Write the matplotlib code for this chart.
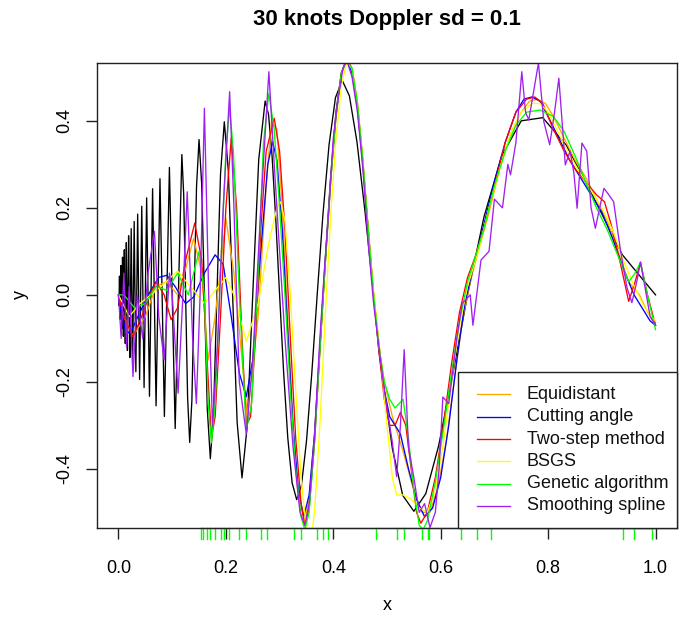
import matplotlib
matplotlib.use("Agg")
import matplotlib.pyplot as plt
from matplotlib.patches import Rectangle
from matplotlib.lines import Line2D

plt.rcParams['font.family'] = ['Liberation Sans', 'DejaVu Sans']

# ---------------- data ----------------
# true Doppler curve (black)
true_x = [0, 0.0006, 0.00122, 0.00185, 0.0025, 0.00316, 0.00385, 0.00455, 0.00526, 0.006,
          0.00676, 0.00753, 0.00833, 0.00915, 0.01, 0.01087, 0.01176, 0.01269, 0.01364, 0.01462,
          0.01563, 0.01667, 0.01774, 0.01885, 0.02, 0.02119, 0.02241, 0.02368, 0.025, 0.02636,
          0.02778, 0.02925, 0.03077, 0.03235, 0.034, 0.03571, 0.0375, 0.03936, 0.0413, 0.04333,
          0.04545, 0.04767, 0.05, 0.05244, 0.055, 0.05769, 0.06053, 0.06351, 0.06667, 0.07,
          0.07353, 0.07727, 0.08125, 0.08548, 0.09, 0.09483, 0.1, 0.10556, 0.11154,
          0.118, 0.12143, 0.125, 0.12872, 0.13261, 0.13667, 0.14091, 0.14535, 0.15, 0.15488,
          0.16, 0.16538, 0.17105, 0.17703, 0.18333, 0.19, 0.19706, 0.20455, 0.2125, 0.22097,
          0.23, 0.23966, 0.25, 0.26111,
          0.27308, 0.27941, 0.286, 0.29286, 0.30, 0.30745, 0.31522, 0.32333, 0.33182, 0.3407,
          0.35, 0.35976, 0.37, 0.38077, 0.39211, 0.40405, 0.41667, 0.43, 0.44412, 0.45909,
          0.475, 0.49194, 0.51, 0.52931, 0.55, 0.57222, 0.59615, 0.622, 0.65, 0.68043,
          0.71364, 0.75, 0.79, 0.83421, 0.88333, 0.93824, 1.0]
true_y = [0, -0.0245, 0, 0.043, 0, -0.0561, 0, 0.0673, 0, -0.0772,
          0, 0.0864, 0, -0.0952, 0, 0.1037, 0, -0.1119, 0, 0.12,
          0, -0.1279, 0, 0.1358, 0, -0.144, 0, 0.1521, 0, -0.1601,
          0, 0.1686, 0, -0.1769, 0, 0.1856, 0, -0.1946, 0, 0.2036,
          0, -0.213, 0, 0.2229, 0, -0.2332, 0, 0.2439, 0, -0.2551,
          0, 0.267, 0, -0.2796, 0, 0.2929, 0, -0.3074, 0,
          0.3226, 0.231, 0, -0.2368, -0.3393, -0.2429, 0, 0.2492, 0.3571, 0.2558,
          0, -0.2627, -0.3766, -0.2699, 0, 0.2774, 0.3979, 0.2852, 0, -0.2934,
          -0.4208, -0.3019, 0, 0.3106,
          0.4456, 0.4146, 0.3195, 0.1742, 0, -0.1766, -0.3285, -0.4322, -0.4709, -0.4379,
          -0.3373, -0.1837, 0, 0.1858, 0.3452, 0.4534, 0.493, 0.4574, 0.3513, 0.1907,
          0, -0.1913, -0.3535, -0.4611, -0.4975, -0.4571, -0.347, -0.1856, 0, 0.1785,
          0.3197, 0.4001, 0.4073, 0.3436, 0.227, 0.0921, 0]

# fitted curves as (x, y) points
equidistant = [(0, 0), (0.01, -0.05), (0.027, -0.095), (0.05, -0.05), (0.07, 0.02), (0.09, 0.03),
               (0.11, 0.0), (0.125, 0.06), (0.14, 0.13), (0.155, 0.05), (0.167, -0.15),
               (0.18, -0.05), (0.2, 0.176), (0.215, 0.05), (0.24, -0.28), (0.26, -0.05),
               (0.275, 0.25), (0.285, 0.40), (0.295, 0.38), (0.305, 0.2), (0.315, -0.05),
               (0.325, -0.3), (0.335, -0.47), (0.347, -0.52), (0.355, -0.47), (0.365, -0.32),
               (0.375, -0.12), (0.385, 0.08), (0.395, 0.27), (0.405, 0.42), (0.415, 0.51),
               (0.425, 0.54), (0.435, 0.51), (0.445, 0.43), (0.455, 0.3), (0.465, 0.15),
               (0.475, 0.0), (0.485, -0.12), (0.495, -0.2), (0.51, -0.28), (0.53, -0.36),
               (0.55, -0.45), (0.565, -0.5), (0.58, -0.5), (0.595, -0.44), (0.61, -0.34),
               (0.625, -0.2), (0.64, -0.06), (0.655, 0.03), (0.67, 0.1), (0.69, 0.19),
               (0.71, 0.29), (0.73, 0.37), (0.75, 0.42), (0.765, 0.445), (0.78, 0.45),
               (0.795, 0.44), (0.81, 0.41), (0.83, 0.36), (0.85, 0.31), (0.87, 0.27),
               (0.89, 0.22), (0.91, 0.17), (0.93, 0.1), (0.95, 0.03), (0.97, 0.0),
               (0.985, -0.04), (1.0, -0.065)]

cutting_angle = [(0, 0), (0.005, -0.04), (0.015, -0.09), (0.025, -0.08), (0.04, -0.04),
                 (0.06, 0.01), (0.075, 0.04), (0.09, 0.045), (0.105, 0.02), (0.125, -0.02),
                 (0.14, -0.005), (0.16, 0.05), (0.18, 0.092), (0.195, 0.07), (0.21, -0.05),
                 (0.225, -0.18), (0.238, -0.234), (0.25, -0.15), (0.265, 0.1), (0.278, 0.30),
                 (0.287, 0.352), (0.295, 0.31), (0.305, 0.15), (0.315, -0.08), (0.325, -0.3),
                 (0.335, -0.45), (0.345, -0.51), (0.355, -0.46), (0.365, -0.32), (0.375, -0.12),
                 (0.385, 0.08), (0.395, 0.27), (0.405, 0.42), (0.415, 0.51), (0.425, 0.54),
                 (0.435, 0.51), (0.445, 0.43), (0.455, 0.3), (0.465, 0.15), (0.475, 0.0),
                 (0.485, -0.13), (0.495, -0.22), (0.505, -0.28), (0.515, -0.30), (0.525, -0.32),
                 (0.54, -0.4), (0.555, -0.47), (0.57, -0.51), (0.585, -0.49), (0.60, -0.42),
                 (0.615, -0.3), (0.63, -0.15), (0.645, -0.02), (0.66, 0.06), (0.68, 0.16),
                 (0.70, 0.26), (0.72, 0.35), (0.74, 0.42), (0.755, 0.45), (0.77, 0.455),
                 (0.785, 0.445), (0.80, 0.41), (0.82, 0.36), (0.84, 0.31), (0.86, 0.27),
                 (0.88, 0.23), (0.90, 0.19), (0.92, 0.13), (0.94, 0.06), (0.96, 0.0),
                 (0.975, -0.03), (0.99, -0.06), (1.0, -0.07)]

two_step = [(0, 0), (0.01, -0.05), (0.027, -0.096), (0.04, -0.06), (0.055, -0.01), (0.07, 0.03),
            (0.085, 0.0), (0.098, -0.057), (0.11, -0.03), (0.125, 0.08), (0.142, 0.165),
            (0.155, 0.08), (0.165, -0.15), (0.173, -0.33), (0.18, -0.28), (0.19, -0.05),
            (0.2, 0.2), (0.21, 0.36), (0.22, 0.2), (0.23, -0.1), (0.238, -0.3), (0.246, -0.28),
            (0.255, -0.1), (0.265, 0.15), (0.275, 0.33), (0.29, 0.406), (0.30, 0.33),
            (0.31, 0.15), (0.32, -0.1), (0.33, -0.33), (0.34, -0.48), (0.347, -0.53),
            (0.355, -0.49), (0.365, -0.34), (0.375, -0.13), (0.385, 0.07), (0.395, 0.26),
            (0.405, 0.41), (0.415, 0.51), (0.425, 0.545), (0.435, 0.52), (0.445, 0.44),
            (0.455, 0.31), (0.465, 0.15), (0.475, 0.0), (0.485, -0.13), (0.495, -0.24),
            (0.505, -0.3), (0.515, -0.3), (0.525, -0.27), (0.535, -0.3), (0.545, -0.4),
            (0.555, -0.5), (0.563, -0.525), (0.575, -0.5), (0.59, -0.42), (0.605, -0.3),
            (0.62, -0.16), (0.635, -0.04), (0.65, 0.04), (0.665, 0.09), (0.68, 0.15),
            (0.70, 0.25), (0.72, 0.35), (0.74, 0.42), (0.76, 0.45), (0.775, 0.455),
            (0.79, 0.44), (0.81, 0.38), (0.83, 0.33), (0.85, 0.29), (0.87, 0.26),
            (0.89, 0.23), (0.905, 0.214), (0.92, 0.15), (0.935, 0.07), (0.95, -0.015),
            (0.962, 0.03), (0.972, 0.075), (0.985, 0.0), (1.0, -0.07)]

bsgs = [(0, 0), (0.02, -0.05), (0.04, -0.02), (0.06, 0.0), (0.08, 0.02), (0.11, 0.055),
        (0.14, 0.01), (0.16, -0.02), (0.18, 0.01), (0.2, 0.04), (0.215, 0.0), (0.238, -0.107),
        (0.26, -0.02), (0.28, 0.12), (0.295, 0.2), (0.302, 0.214), (0.31, 0.17), (0.32, 0.0),
        (0.33, -0.22), (0.34, -0.42), (0.35, -0.54), (0.357, -0.58), (0.365, -0.5),
        (0.375, -0.3), (0.385, -0.05), (0.395, 0.18), (0.405, 0.36), (0.415, 0.48),
        (0.425, 0.535), (0.435, 0.52), (0.445, 0.44), (0.455, 0.31), (0.465, 0.15),
        (0.475, 0.01), (0.485, -0.11), (0.49, -0.165), (0.50, -0.3), (0.51, -0.42),
        (0.518, -0.46), (0.53, -0.46), (0.545, -0.47), (0.56, -0.49), (0.575, -0.5),
        (0.59, -0.45), (0.605, -0.34), (0.62, -0.2), (0.635, -0.07), (0.65, 0.02),
        (0.67, 0.1), (0.69, 0.2), (0.71, 0.29), (0.73, 0.37), (0.75, 0.42), (0.77, 0.44),
        (0.785, 0.44), (0.80, 0.42), (0.82, 0.37), (0.84, 0.32), (0.86, 0.28), (0.88, 0.24),
        (0.90, 0.2), (0.92, 0.15), (0.94, 0.08), (0.96, 0.02), (0.98, -0.03), (1.0, -0.06)]

genetic = [(0, 0), (0.01, 0.0), (0.03, -0.03), (0.05, -0.02), (0.07, 0.02), (0.09, 0.01),
           (0.11, 0.05), (0.13, 0.0), (0.15, 0.1), (0.16, 0.0), (0.167, -0.25), (0.173, -0.34),
           (0.18, -0.25), (0.19, 0.05), (0.2, 0.33), (0.207, 0.43), (0.214, 0.33), (0.225, 0.0),
           (0.238, -0.31), (0.248, -0.25), (0.26, 0.05), (0.27, 0.35), (0.28, 0.463),
           (0.29, 0.38), (0.30, 0.2), (0.31, 0.0), (0.32, -0.22), (0.33, -0.4), (0.34, -0.51),
           (0.347, -0.54), (0.355, -0.5), (0.365, -0.34), (0.375, -0.13), (0.385, 0.07),
           (0.395, 0.26), (0.405, 0.41), (0.415, 0.51), (0.425, 0.54), (0.435, 0.52),
           (0.445, 0.44), (0.455, 0.31), (0.465, 0.15), (0.475, 0.0), (0.485, -0.12),
           (0.495, -0.2), (0.505, -0.24), (0.515, -0.26), (0.53, -0.24), (0.54, -0.33),
           (0.55, -0.45), (0.56, -0.53), (0.567, -0.54), (0.575, -0.52), (0.59, -0.43),
           (0.605, -0.31), (0.62, -0.18), (0.635, -0.06), (0.65, 0.03), (0.665, 0.09),
           (0.68, 0.15), (0.70, 0.25), (0.72, 0.33), (0.74, 0.39), (0.76, 0.42),
           (0.785, 0.425), (0.81, 0.41), (0.83, 0.375), (0.85, 0.32), (0.87, 0.26),
           (0.89, 0.2), (0.91, 0.15), (0.93, 0.09), (0.95, 0.03), (0.962, 0.05),
           (0.972, 0.075), (0.985, 0.0), (1.0, -0.08)]

smoothing = [(0, 0), (0.005, -0.1), (0.01, 0.05), (0.015, -0.12), (0.02, 0.02), (0.027, -0.188),
             (0.035, 0.0), (0.045, -0.1), (0.055, 0.05), (0.067, 0.146), (0.075, -0.05),
             (0.085, -0.15), (0.095, 0.05), (0.1, 0.0), (0.111, -0.226), (0.12, 0.0),
             (0.128, 0.237), (0.138, -0.1), (0.145, -0.25), (0.152, 0.0), (0.16, 0.429),
             (0.168, 0.0), (0.175, -0.3), (0.185, -0.1), (0.195, 0.2), (0.207, 0.467),
             (0.215, 0.2), (0.225, -0.2), (0.238, -0.32), (0.25, -0.15), (0.265, 0.2),
             (0.28, 0.513), (0.29, 0.3), (0.30, 0.1), (0.31, -0.1), (0.325, -0.35),
             (0.338, -0.5), (0.347, -0.53), (0.355, -0.48), (0.365, -0.33), (0.375, -0.1),
             (0.383, 0.05), (0.392, 0.2), (0.40, 0.36), (0.41, 0.46), (0.418, 0.52),
             (0.425, 0.54), (0.435, 0.5), (0.445, 0.42), (0.455, 0.29), (0.465, 0.12),
             (0.475, -0.02), (0.485, -0.12), (0.495, -0.22), (0.505, -0.3), (0.51, -0.34),
             (0.518, -0.418), (0.525, -0.3), (0.532, -0.126), (0.54, -0.35), (0.55, -0.42),
             (0.56, -0.5), (0.57, -0.48), (0.58, -0.535), (0.59, -0.5), (0.597, -0.4),
             (0.604, -0.235), (0.615, -0.25), (0.63, -0.1), (0.64, -0.02), (0.655, 0.0),
             (0.66, -0.07), (0.675, 0.08), (0.69, 0.1), (0.70, 0.22), (0.715, 0.2),
             (0.725, 0.3), (0.73, 0.276), (0.74, 0.35), (0.751, 0.513), (0.758, 0.42),
             (0.764, 0.402), (0.772, 0.46), (0.782, 0.533), (0.792, 0.398), (0.803, 0.345),
             (0.812, 0.42), (0.82, 0.498), (0.832, 0.299), (0.841, 0.33), (0.848, 0.28),
             (0.854, 0.199), (0.863, 0.349), (0.872, 0.33), (0.88, 0.2), (0.888, 0.153),
             (0.896, 0.2), (0.904, 0.245), (0.913, 0.23), (0.922, 0.214), (0.935, 0.1),
             (0.947, 0.016), (0.956, -0.018), (0.965, 0.03), (0.972, 0.075), (0.98, 0.02),
             (0.99, -0.05), (1.0, -0.07)]

knots = [0.153, 0.158, 0.164, 0.171, 0.179, 0.190, 0.196, 0.205, 0.224, 0.238, 0.266, 0.276,
         0.326, 0.339, 0.370, 0.380, 0.390, 0.479, 0.518, 0.532, 0.566, 0.576, 0.579, 0.638,
         0.668, 0.694, 0.939, 0.960, 0.994]

labels = ["Equidistant", "Cutting angle", "Two-step method", "BSGS",
          "Genetic algorithm", "Smoothing spline"]
colors = ["#FFA500", "#0000FF", "#FF0000", "#FFFF00", "#00FF00", "#A020F0"]
title = "30 knots Doppler sd = 0.1"
xticks = [0.0, 0.2, 0.4, 0.6, 0.8, 1.0]
yticks = [-0.4, -0.2, 0.0, 0.2, 0.4]

# ---------------- figure ----------------
W, H = 688, 623
fig = plt.figure(figsize=(W / 100, H / 100), dpi=100)
L, R, T, B = 97, 677, 63, 528
ax = fig.add_axes([L / W, 1 - B / H, (R - L) / W, (B - T) / H])
ax.set_xlim(-0.04, 1.04)
ax.set_ylim(-0.536, 0.533)

lw = 0.95
ax.plot(true_x, true_y, color="black", lw=lw)
series = [equidistant, cutting_angle, two_step, bsgs, genetic, smoothing]
for pts, c in zip(series, colors):
    sx = [p[0] for p in pts]
    sy = [p[1] for p in pts]
    ax.plot(sx, sy, color=c, lw=lw)

axis_col = "#222222"
for s in ax.spines.values():
    s.set_linewidth(1.0)
    s.set_color(axis_col)

fs = 13
ax.set_xticks(xticks)
ax.set_xticklabels([f"{v:.1f}" for v in xticks], fontsize=fs)
ax.set_yticks(yticks)
ax.set_yticklabels([f"{v:.1f}" for v in yticks], fontsize=fs, rotation=90, va="center")
ax.tick_params(axis="both", direction="out", length=7.9, width=1.0, color=axis_col)
ax.tick_params(axis="x", pad=15)
ax.tick_params(axis="y", pad=9)

# rug of knots drawn as green axis
tr = ax.get_xaxis_transform()
tick_len = 11 / (B - T)
ax.plot([min(knots), max(knots)], [0, 0], color="#00FF00", lw=1.0, transform=tr, clip_on=False)
for k in knots:
    ax.plot([k, k], [0, -tick_len], color="#00FF00", lw=1.0, transform=tr, clip_on=False)

# legend (drawn manually to mimic base R legend)
def fx(px):
    return px / W

def fy(py):
    return 1 - py / H

lx0, lx1, ly0, ly1 = 458, 677, 372, 528
fig.add_artist(Rectangle((fx(lx0), fy(ly1)), fx(lx1) - fx(lx0), fy(ly0) - fy(ly1),
                         transform=fig.transFigure, facecolor="white", edgecolor=axis_col,
                         lw=1.0, zorder=5))
row_y = [394.3, 416.7, 439.0, 461.3, 483.6, 506.0]
for yy, lab, c in zip(row_y, labels, colors):
    fig.add_artist(Line2D([fx(477), fx(510)], [fy(yy), fy(yy)], color=c, lw=lw,
                          transform=fig.transFigure, zorder=6))
    fig.text(fx(527), fy(yy), lab, fontsize=fs, va="center", ha="left", zorder=6,
             color="#111111")

fig.text(fx(387), fy(19), title, fontsize=16, fontweight="bold", ha="center", va="center")
fig.text(fx(387), fy(606), "x", fontsize=fs, ha="center", va="center")
fig.text(fx(20), fy(295), "y", fontsize=fs, ha="center", va="center", rotation=90)

fig.savefig("out.png", dpi=100)
